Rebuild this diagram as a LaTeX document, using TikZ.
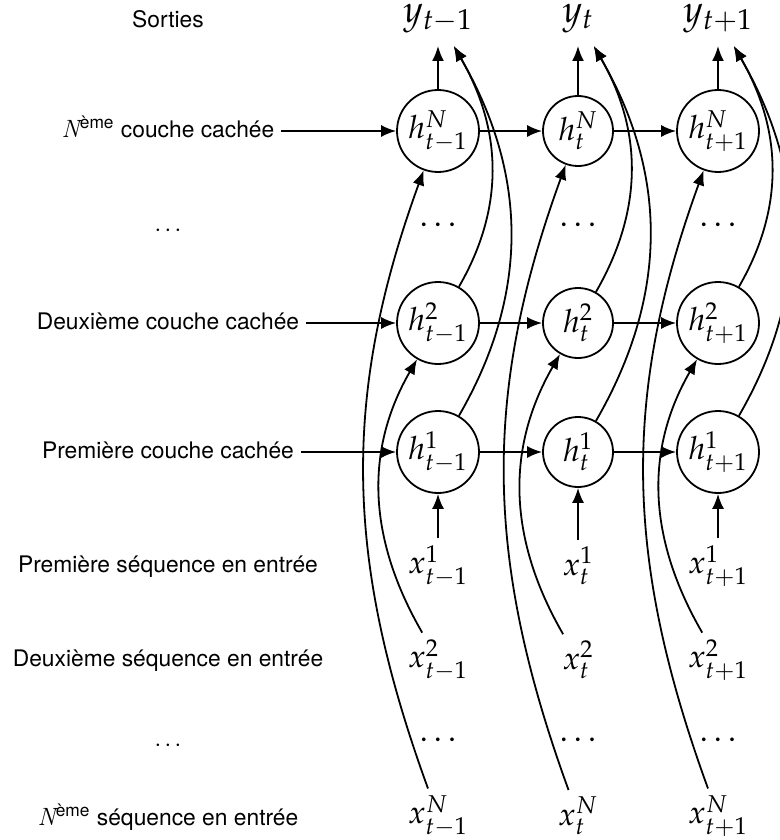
\documentclass[tikz,border=0pt]{standalone}
\usepackage{mathpazo}
\usepackage[no-math]{fontspec}
\setmainfont{TeX Gyre Heros}
\usetikzlibrary{arrows.meta}
\newcommand\lmN{\fontfamily{lmr}\fontshape{it}\selectfont}
\begin{document}
\begin{tikzpicture}[x=0.5pt,y=0.5pt,line width=0.9pt,
  conn/.style={-{Latex[length=7.5pt,width=6pt]}},
  lab/.style={font=\fontsize{11.4}{13}\selectfont,inner sep=3pt,text height=8.5pt,text depth=2.5pt},
  hnode/.style={circle,draw,inner sep=0pt,font=\fontsize{16}{19}\selectfont},
  xin/.style={inner sep=3pt,font=\fontsize{16}{19}\selectfont},
  yout/.style={inner xsep=3pt,inner ysep=6pt,anchor=south,font=\fontsize{19}{22}\selectfont},
  dotsn/.style={font=\fontsize{16}{19}\selectfont}]
\useasboundingbox (0,0) rectangle (780,-840);
% left labels
\node[lab] (lS)  at (168,-22)  {Sorties};
\node[lab] (lN)  at (168,-131) {{\lmN\fontsize{12.5}{13}\selectfont N}\textsuperscript{ème} couche cachée};
\node[lab] (ld1) at (168,-225) {$\ldots$};
\node[lab] (l2)  at (168,-323) {Deuxième couche cachée};
\node[lab] (l1)  at (168,-452) {Première couche cachée};
\node[lab] (s1)  at (168,-566) {Première séquence en entrée};
\node[lab] (s2)  at (168,-660) {Deuxième séquence en entrée};
\node[lab] (ld2) at (168,-740) {$\ldots$};
\node[lab] (sN)  at (168,-819) {{\lmN\fontsize{12.5}{13}\selectfont N}\textsuperscript{ème} séquence en entrée};
% columns
\foreach \i/\cx/\sub/\msz in {1/438/{t-1}/41, 2/578/{t}/35, 3/718/{t+1}/41}{
  \node[hnode,minimum size=\msz pt] (hN\i) at (\cx,-131) {$h^N_{\sub}$};
  \node[dotsn] (hd\i) at (\cx,-225) {$\ldots$};
  \node[hnode,minimum size=\msz pt] (h2\i) at (\cx,-323) {$h^2_{\sub}$};
  \node[hnode,minimum size=\msz pt] (h1\i) at (\cx,-452) {$h^1_{\sub}$};
  \node[xin] (x1\i) at (\cx,-566) {$x^1_{\sub}$};
  \node[xin] (x2\i) at (\cx,-660) {$x^2_{\sub}$};
  \node[dotsn] (xd\i) at (\cx,-740) {$\ldots$};
  \node[xin] (xN\i) at (\cx,-816) {$x^N_{\sub}$};
  \node[yout] (y\i) at (\cx,-46) {$y_{\sub}$};
}
\foreach \i in {1,2,3}{
  \draw[conn] (hN\i) -- (y\i);
  \draw[conn] (x1\i) -- (h1\i);
  \draw[conn] (x2\i) to[out=120,in=240] (h2\i);
  \draw[conn] (xN\i) to[out=110,in=250] (hN\i);
  \draw[conn] (h1\i) to[out=60,in=300] (y\i);
  \draw[conn] (h2\i) to[out=60,in=300] (y\i);
}
% horizontal arrows
\draw[conn] (lN) -- (hN1);
\draw[conn] (l2) -- (h21);
\draw[conn] (l1) -- (h11);
\draw[conn] (hN1) -- (hN2); \draw[conn] (hN2) -- (hN3);
\draw[conn] (h21) -- (h22); \draw[conn] (h22) -- (h23);
\draw[conn] (h11) -- (h12); \draw[conn] (h12) -- (h13);
\end{tikzpicture}
\end{document}
